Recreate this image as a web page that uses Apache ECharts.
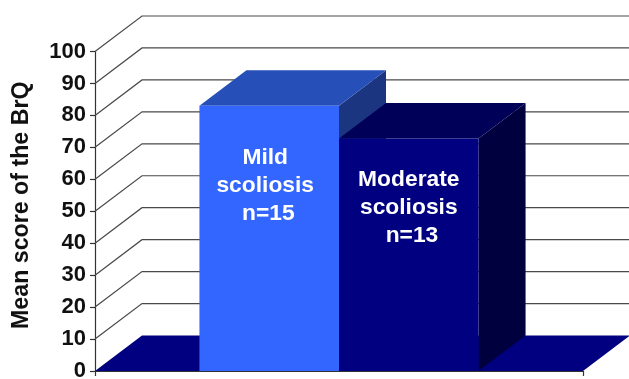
<!doctype html>
<html lang="en">
<head>
    <meta charset="UTF-8">
    <title>Mean score of the BrQ</title>
    <style>
        html, body { margin: 0; padding: 0; background: #fff; }
        #main { width: 629px; height: 379px; }
    </style>
</head>
<body>
<div id="main"></div>
<script src="https://cdn.jsdelivr.net/npm/echarts@6/dist/echarts.min.js"></script>
<script>
    var categories = ['Mild scoliosis', 'Moderate scoliosis'];
    var barValues = [83, 72.8];
    var barLabels = ['Mild\nscoliosis\n n=15', 'Moderate\nscoliosis\n n=13'];
    var wallTicks = [10, 20, 30, 40, 50, 60, 70, 80, 90, 100];

    // fake 3d look, depth of the box in pixels
    var depthX = 47;
    var depthY = 35.5;
    var barShare = 0.286;
    var labelFont = 'bold 22.8px "Liberation Sans", Arial, sans-serif';

    var frontColors = ['#3366ff', '#000080'];
    var topColors = ['#2650b8', '#000058'];
    var sideColors = ['#1c3580', '#00003f'];
    var labelDx = [-4, 0];
    var labelDy = [79.5, 69];

    function poly(points, color) {
        return { type: 'polygon', shape: { points: points }, style: { fill: color } };
    }

    function renderWall(params, api) {
        var p = api.coord([0, api.value(1)]);
        var half = api.size([1, 0])[0] / 2;
        var x0 = p[0] - half;
        return {
            type: 'polyline',
            shape: { points: [[x0, p[1]], [x0 + depthX, p[1] - depthY], [x0 + 2 * half + depthX, p[1] - depthY]] },
            style: { fill: null, stroke: '#4a4a4a', lineWidth: 1.2 }
        };
    }

    function renderFloor(params, api) {
        var p = api.coord([0, 0]);
        var half = api.size([1, 0])[0] / 2;
        var l = p[0] - half, r = p[0] + half, y = p[1];
        return poly([[l, y], [l + depthX, y - depthY], [r + depthX, y - depthY], [r, y]], '#000080');
    }

    function renderBar(params, api) {
        var i = params.dataIndex;
        var top = api.coord([0, api.value(1)]);
        var base = api.coord([0, 0]);
        var w = api.size([1, 0])[0] * barShare;
        var l = top[0] + (i - 1) * w, r = l + w;
        var t = top[1], b = base[1];
        return {
            type: 'group',
            children: [
                poly([[r, t], [r + depthX, t - depthY], [r + depthX, b - depthY], [r, b]], sideColors[i]),
                poly([[l, t], [l + depthX, t - depthY], [r + depthX, t - depthY], [r, t]], topColors[i]),
                poly([[l, t], [r, t], [r, b], [l, b]], frontColors[i]),
                {
                    type: 'text',
                    style: {
                        x: (l + r) / 2 + labelDx[i],
                        y: t + labelDy[i],
                        text: barLabels[i],
                        fill: '#fff',
                        font: labelFont,
                        lineHeight: 28,
                        align: 'center',
                        verticalAlign: 'middle'
                    }
                }
            ]
        };
    }

    var myChart = echarts.init(document.getElementById('main'));
    var option = {
        animation: false,
        grid: { left: 95, top: 51.5, width: 488, height: 319.5, outerBoundsMode: 'none' },
        xAxis: {
            type: 'category',
            data: [''],
            axisLine: { lineStyle: { color: '#333', width: 1.2 } },
            axisTick: { show: true, length: 5, lineStyle: { color: '#333', width: 1.2 } },
            axisLabel: { show: false }
        },
        yAxis: {
            type: 'value',
            min: 0,
            max: 100,
            interval: 10,
            name: 'Mean score of the BrQ',
            nameLocation: 'middle',
            nameRotate: 90,
            nameGap: 62,
            nameTextStyle: { fontFamily: 'Liberation Sans', fontWeight: 'bold', fontSize: 23.2, color: '#111', padding: [0, 0, 0, 12] },
            axisLine: { show: true, lineStyle: { color: '#333', width: 1.2 } },
            axisTick: { show: true, length: 5, lineStyle: { color: '#333', width: 1.2 } },
            axisLabel: { fontFamily: 'Liberation Sans', fontWeight: 'bold', fontSize: 22, color: '#111', margin: 9 },
            splitLine: { show: false }
        },
        series: [
            {
                type: 'custom',
                name: 'wall',
                renderItem: renderWall,
                clip: false,
                silent: true,
                data: wallTicks.map(function (v) { return [0, v]; })
            },
            {
                type: 'custom',
                name: 'floor',
                renderItem: renderFloor,
                clip: false,
                silent: true,
                data: [[0, 0]]
            },
            {
                type: 'custom',
                name: 'bars',
                renderItem: renderBar,
                clip: false,
                data: categories.map(function (c, i) { return { name: c, value: [0, barValues[i]] }; })
            }
        ]
    };
    myChart.setOption(option);
</script>
</body>
</html>
